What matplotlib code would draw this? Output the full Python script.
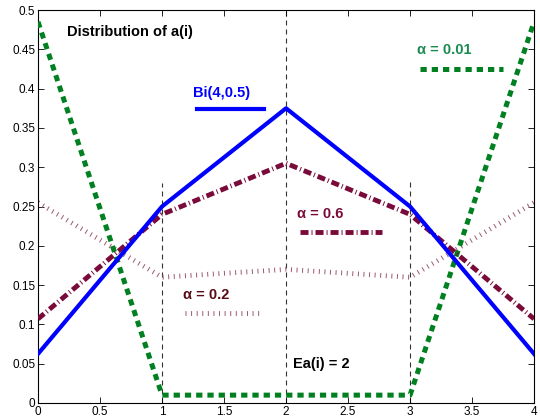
import matplotlib.pyplot as plt

# support points and probabilities
i_vals = [0, 1, 2, 3, 4]
bi_probs = [0.0625, 0.25, 0.375, 0.25, 0.0625]
a06_probs = [0.107, 0.24, 0.305, 0.24, 0.107]
a02_probs = [0.255, 0.16, 0.17, 0.16, 0.255]
a001_probs = [0.485, 0.01, 0.01, 0.01, 0.485]

# vertical guide lines (x, top)
vline_x = [1, 2, 3]
vline_top = [0.28, 0.5, 0.286]

xticks = [0, 0.5, 1, 1.5, 2, 2.5, 3, 3.5, 4]
yticks = [0, 0.05, 0.1, 0.15, 0.2, 0.25, 0.3, 0.35, 0.4, 0.45, 0.5]

blue = '#0000ff'
green = '#008020'
maroon = '#7a0a3a'
mauve = '#9a5a6a'

green_dash = (1.25, 1.0)
maroon_dash = (1.65, 0.62, 0.2, 0.62)
mauve_dash = (0.2, 0.95)

plt.rcParams['font.family'] = ['Liberation Sans', 'DejaVu Sans']

fig = plt.figure(figsize=(5.4, 4.18), dpi=100)
ax = fig.add_axes([0.0704, 0.0359, 0.9186, 0.9401])

for x, top in zip(vline_x, vline_top):
    ax.plot([x, x], [0, top], color='#333333', lw=0.8, dashes=(4.5, 3.6), zorder=1)

ax.plot(i_vals, a02_probs, color=mauve, lw=3.5, dashes=mauve_dash,
        dash_capstyle='butt', zorder=2)
ax.plot(i_vals, a001_probs, color=green, lw=3.6, dashes=green_dash,
        dash_capstyle='butt', zorder=3)
ax.plot(i_vals, a06_probs, color=maroon, lw=3.5, dashes=maroon_dash,
        dash_capstyle='butt', zorder=4)
ax.plot(i_vals, bi_probs, color=blue, lw=3, zorder=5)

# in-plot legend samples
ax.plot([1.28, 1.82], [0.374, 0.374], color=blue, lw=3)
ax.plot([3.08, 3.75], [0.425, 0.425], color=green, lw=3.6, dashes=green_dash,
        dash_capstyle='butt')
ax.plot([2.11, 2.77], [0.2175, 0.2175], color=maroon, lw=3.5,
        dashes=maroon_dash, dash_capstyle='butt')
ax.plot([1.185, 1.80], [0.1145, 0.1145], color=mauve, lw=3.5, dashes=mauve_dash,
        dash_capstyle='butt')

fs = 10.5
ax.text(0.234, 0.472, 'Distribution of a(i)', fontsize=fs, fontweight='bold',
        color='black', va='center')
ax.text(1.25, 0.394, 'Bi(4,0.5)', fontsize=fs, fontweight='bold', color=blue,
        va='center')
ax.text(3.06, 0.449, 'α = 0.01', fontsize=fs, fontweight='bold',
        color='#1a8a50', va='center')
ax.text(2.09, 0.240, 'α = 0.6', fontsize=fs, fontweight='bold',
        color=maroon, va='center')
ax.text(1.17, 0.137, 'α = 0.2', fontsize=fs, fontweight='bold',
        color='#5a0a14', va='center')
ax.text(2.056, 0.0496, 'Ea(i) = 2', fontsize=fs, fontweight='bold',
        color='black', va='center')

ax.set_xlim(0, 4)
ax.set_ylim(0, 0.5)
ax.set_xticks(xticks)
ax.set_xticklabels(['0', '0.5', '1', '1.5', '2', '2.5', '3', '3.5', '4'])
ax.set_yticks(yticks)
ax.set_yticklabels(['0', '0.05', '0.1', '0.15', '0.2', '0.25', '0.3', '0.35',
                    '0.4', '0.45', '0.5'])
ax.tick_params(direction='in', top=True, right=True, labelsize=8.5, length=4,
               width=0.6, pad=2)
for s in ax.spines.values():
    s.set_linewidth(0.8)

fig.savefig('out.png', dpi=100)
